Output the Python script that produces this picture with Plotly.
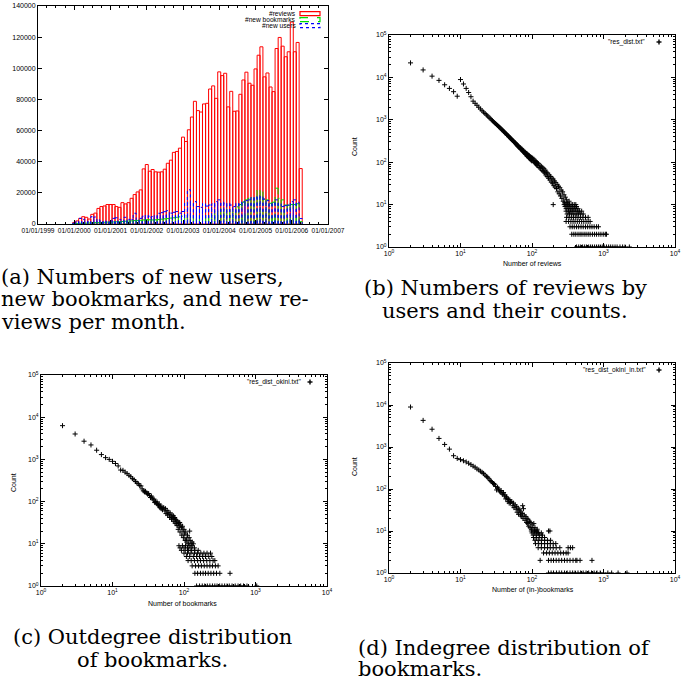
import plotly.graph_objects as go
import pandas as pd

W, H = 685, 677

# ---------------- (a) monthly counts, Jan 2000 .. Apr 2006 ----------------
month_start = "2000-01-01"
n_months = 76
reviews = [1000, 2000, 3600, 4700, 4300, 3200, 6200, 7000, 10000, 11200, 11600, 12500,
           12500, 12500, 11200, 10700, 13700, 12900, 13700, 16500, 18900, 20600, 21900, 35400,
           38200, 33900, 35000, 33500, 33300, 33500, 35200, 39000, 41000, 46000, 46600, 48700,
           55800, 53000, 60500, 68700, 78800, 72800, 71900, 77100, 77500, 86700, 88700, 80700,
           97700, 95300, 96800, 75200, 85200, 72400, 72600, 83300, 92500, 97500, 90400, 89100,
           99600, 108400, 113800, 94500, 97000, 88000, 85000, 112700, 119800, 114200, 107400, 110600,
           129700, 110600, 116600, 35600]
new_bookmarks = [300, 400, 500, 500, 600, 700, 800, 900, 900, 1000, 1100, 1200,
                 1200, 1300, 1400, 1500, 1600, 1800, 1900, 2000, 2200, 2300, 2400, 2600,
                 2800, 2700, 2600, 2700, 2900, 3100, 3300, 3500, 3800, 4000, 4300, 4600,
                 5000, 5400, 5800, 6000, 6200, 6100, 6500, 7000, 7400, 7800, 8300, 9000,
                 10000, 9600, 9800, 9500, 9200, 10000, 11000, 12500, 14000, 15500, 16500, 17500,
                 21500, 21500, 21000, 16000, 15500, 13300, 14000, 23000, 16500, 15500, 12200, 12000,
                 12500, 12500, 13000, 1500]
new_users = [500, 1500, 3600, 3000, 2000, 1500, 4700, 4500, 2600, 1800, 2100, 1500,
             2500, 3600, 4000, 3000, 2500, 4300, 3000, 3000, 6900, 2500, 3600, 5000,
             5800, 5000, 4800, 5500, 6900, 7300, 7900, 8600, 7000, 7500, 8000, 7000,
             8000, 14000, 22000, 13300, 14400, 11200, 10700, 13300, 11500, 12200, 13000, 14400,
             15500, 14000, 13000, 13500, 12200, 11200, 13300, 14000, 14400, 15000, 15500, 17000,
             17600, 18000, 17500, 16000, 15000, 13300, 13800, 15500, 13300, 11200, 11800, 12200,
             14400, 15500, 14000, 3500]
year_tick_vals = ["1999-01-01", "2000-01-01", "2001-01-01", "2002-01-01", "2003-01-01",
                  "2004-01-01", "2005-01-01", "2006-01-01", "2007-01-01"]
year_tick_text = ["01/01/1999", "01/01/2000", "01/01/2001", "01/01/2002", "01/01/2003",
                  "01/01/2004", "01/01/2005", "01/01/2006", "01/01/2007"]
legend_a = ["#reviews", "#new bookmarks", "#new users"]

# log-axis ticks (b)-(d)
log_x_vals = [1, 10, 100, 1000, 10000]
log_x_text = ["10<sup>0</sup>", "10<sup>1</sup>", "10<sup>2</sup>", "10<sup>3</sup>", "10<sup>4</sup>"]
log_y_vals = [1, 10, 100, 1000, 10000, 100000]
log_y_text = ["10<sup>0</sup>", "10<sup>1</sup>", "10<sup>2</sup>", "10<sup>3</sup>", "10<sup>4</sup>",
              "10<sup>5</sup>"]

# ---------------- (b) reviews per user ----------------
b_x_head = [2, 3, 4, 5, 6, 7, 8, 9]
b_y_head = [22000, 15000, 10700, 8500, 6700, 5500, 4600, 3600]
b_x_main = list(range(10, 101))
b_y_main = [8900, 7000, 5500, 4400, 3500, 2750, 2450, 2200, 1980, 1800,
            1640, 1520, 1410, 1310, 1230, 1150, 1080, 1000, 950, 900,
            850, 810, 770, 735, 700, 670, 640, 610, 585, 560,
            535, 515, 495, 475, 455, 440, 425, 410, 395, 380,
            365, 355, 345, 330, 325, 310, 305, 290, 290, 275,
            270, 258, 255, 240, 245, 230, 228, 218, 222, 205,
            212, 198, 205, 188, 192, 178, 185, 170, 176, 162,
            172, 155, 165, 150, 160, 140, 155, 138, 148, 130,
            145, 128, 140, 122, 135, 118, 132, 112, 128, 108,
            120]
b_x_tail = [102, 104, 106, 108, 110, 112, 114, 116, 118, 120, 123, 126, 129, 132, 135, 138, 141, 144,
            147, 150, 153, 156, 160, 163, 166, 170, 174, 178, 182, 186, 190, 194, 198, 202, 206, 210,
            215, 220, 225, 230, 235, 240, 245, 250, 256, 262, 268, 274, 280, 286, 292, 298, 305, 312,
            320, 330, 198]
b_y_tail = [125, 105, 118, 98, 110, 92, 104, 86, 98, 82, 92, 75, 85, 70, 80, 64, 74, 60,
            70, 56, 65, 50, 58, 46, 55, 42, 50, 38, 46, 34, 42, 32, 40, 28, 36, 26,
            33, 24, 30, 20, 27, 18, 25, 16, 22, 14, 20, 12, 17, 11, 15, 10, 13, 11,
            10, 12, 10]
b_band_counts = [10, 9, 8, 7, 6, 5, 4, 3, 2, 1]
b_band_x = [
    [282, 300, 318, 335, 352, 370, 390, 410],
    [290, 310, 330, 350, 372, 395, 420],
    [300, 320, 340, 362, 385, 410, 440],
    [300, 325, 348, 372, 400, 430, 460, 495],
    [310, 335, 360, 385, 415, 445, 480, 520],
    [305, 330, 355, 380, 410, 440, 475, 515, 560, 610],
    [300, 325, 350, 375, 400, 430, 460, 495, 530, 570, 610, 650],
    [340, 365, 390, 420, 450, 485, 520, 560, 600, 645, 690, 740, 800, 850],
    [360, 385, 410, 440, 470, 500, 535, 570, 610, 650, 700, 750, 800, 860, 920, 990, 1060, 1100],
    [420, 450, 480, 510, 545, 580, 620, 660, 700, 750, 800, 850, 900, 960, 1020, 1100, 1180,
     1260, 1350, 1450, 1550, 1700, 1850, 2000, 2300],
]

# ---------------- (c) outdegree of bookmarks ----------------
c_x_head = [2, 3, 4, 5, 6, 7, 8, 9, 10, 11, 12, 13, 14]
c_y_head = [6300, 4000, 2700, 2200, 1650, 1300, 1100, 1000, 900, 800, 700, 560, 550]
c_x_main = list(range(15, 51))
c_y_main = [500, 460, 420, 390, 350, 330, 300, 275, 265, 240,
            235, 200, 180, 170, 175, 160, 150, 155, 140, 125,
            135, 120, 110, 115, 95, 100, 92, 98, 85, 80,
            88, 72, 78, 68, 75, 64]
c_x_tail = [52, 54, 55, 56, 58, 59, 60, 62, 63, 64, 66, 67, 68, 70, 71, 72, 74, 75, 76, 78,
            79, 80, 82, 83, 84, 86, 87, 88, 90, 92, 93, 95, 97, 98, 100, 102, 104, 106, 108, 110,
            112, 115, 118, 120, 122, 126, 130, 135]
c_y_tail = [72, 60, 68, 52, 62, 48, 56, 50, 42, 54, 45, 38, 48, 40, 46, 34, 42, 31, 38, 30,
            36, 27, 33, 22, 30, 25, 32, 19, 28, 24, 16, 26, 20, 14, 22, 17, 12, 19, 13, 11,
            16, 10, 14, 20, 12, 10, 11, 10]
c_band_counts = [9, 8, 7, 6, 5, 4, 3, 2, 1]
c_band_x = [
    [85, 95, 105, 118, 130],
    [88, 100, 112, 125, 140],
    [92, 104, 116, 128, 142, 158],
    [100, 112, 125, 140, 155, 172, 190, 210, 235],
    [108, 120, 135, 150, 165, 182, 200, 222, 245],
    [114, 126, 140, 155, 170, 188, 208, 230, 255, 270],
    [130, 145, 160, 175, 192, 210, 230, 250, 275, 300],
    [142, 155, 170, 185, 200, 218, 238, 260, 285, 317, 440],
    [150, 165, 180, 195, 212, 230, 250, 270, 290, 315, 340, 370, 400, 430, 470, 520, 570,
     620, 680, 760, 1040],
]

# ---------------- (d) indegree of bookmarks ----------------
d_x_head = [2, 3, 4, 5, 6, 7, 8, 9, 10]
d_y_head = [8950, 4300, 2650, 1600, 1150, 890, 620, 535, 500]
d_x_main = list(range(11, 51))
d_y_main = [470, 440, 410, 380, 350, 330, 300, 285, 265, 250,
            235, 215, 200, 190, 175, 160, 150, 140, 135, 130,
            115, 95, 110, 100, 90, 85, 92, 80, 75, 82,
            68, 72, 58, 65, 60, 50, 56, 46, 55, 48]
d_x_tail = [52, 54, 55, 56, 58, 60, 61, 62, 64, 65, 66, 68, 69, 70, 72, 73, 74, 75, 76, 78,
            80, 82, 84, 85, 87, 88, 90, 92, 94, 96, 98, 100, 103, 106, 108, 110, 114, 118, 122, 170,
            178]
d_y_tail = [50, 40, 46, 36, 42, 33, 38, 28, 35, 25, 32, 30, 24, 28, 22, 26, 40, 20, 34, 24,
            18, 22, 16, 20, 15, 19, 13, 17, 12, 16, 11, 14, 12, 15, 10, 12, 10, 11, 9, 10,
            10]
d_band_counts = [10, 9, 8, 7, 6, 5, 4, 3, 2, 1]
d_band_x = [
    [98, 108, 118],
    [100, 110, 122, 135],
    [104, 115, 128, 140],
    [105, 115, 126, 138, 150],
    [110, 122, 135, 150, 165, 182],
    [112, 124, 136, 150, 165, 180, 198, 215],
    [122, 135, 150, 165, 180, 198, 218, 245, 320, 345, 370],
    [145, 160, 175, 192, 210, 230, 252, 275, 300, 320],
    [130, 170, 185, 200, 218, 238, 260, 285, 310, 340, 375, 410, 425, 470, 690],
    [170, 185, 200, 220, 240, 260, 285, 310, 340, 370, 400, 440, 480, 520, 570, 620, 680,
     740, 810, 900, 1000, 1150, 1300, 1600, 2130],
]

captions = {
    "a": ["(a) Numbers of new users,", "new bookmarks, and new re-", "views per month."],
    "b": ["(b) Numbers of reviews by", "users and their counts."],
    "c": ["(c) Outdegree distribution", "of bookmarks."],
    "d": ["(d) Indegree distribution of", "bookmarks."],
}

# ---------------- helpers ----------------
SANS = "Liberation Sans, Arial, sans-serif"
SERIF = "DejaVu Serif, serif"


def px(x):
    return x / W


def py(y):
    return 1 - y / H


def flatten(x_lists, y_lists):
    xs, ys = [], []
    for xl, yl in zip(x_lists, y_lists):
        xs += list(xl)
        ys += list(yl)
    return xs, ys


def bands(counts, xlists):
    xs, ys = [], []
    for c, xl in zip(counts, xlists):
        xs += xl
        ys += [c] * len(xl)
    return xs, ys


months = pd.date_range(month_start, periods=n_months, freq="MS")
half = pd.Timedelta(days=15.2)


def box_path(dates, vals):
    xs, ys = [], []
    for d, v in zip(dates, vals):
        xs += [d - half, d - half, d + half, d + half, None]
        ys += [0, v, v, 0, None]
    return xs, ys


fig = go.Figure()

# (a)
fig.add_trace(go.Bar(x=months, y=reviews, width=30.4 * 86400000, name=legend_a[0],
                     marker=dict(color="rgba(255,255,255,0)", line=dict(color="#ff0000", width=1)),
                     xaxis="x", yaxis="y", showlegend=False))
gx, gy = box_path(months, new_bookmarks)
fig.add_trace(go.Scatter(x=gx, y=gy, mode="lines", name=legend_a[1],
                         line=dict(color="#00dd00", width=1, dash="dash"),
                         xaxis="x", yaxis="y", showlegend=False))
ux, uy = box_path(months, new_users)
fig.add_trace(go.Scatter(x=ux, y=uy, mode="lines", name=legend_a[2],
                         line=dict(color="#0000ff", width=1, dash="dot"),
                         xaxis="x", yaxis="y", showlegend=False))

marker_plus = dict(symbol="cross-thin", size=3.6, color="black", line=dict(color="black", width=1))

for name, xa, ya, parts, bc, bx in [
    ('"res_dist.txt"', "x2", "y2",
     [(b_x_head, b_y_head), (b_x_main, b_y_main), (b_x_tail, b_y_tail)], b_band_counts, b_band_x),
    ('"res_dist_okini.txt"', "x3", "y3",
     [(c_x_head, c_y_head), (c_x_main, c_y_main), (c_x_tail, c_y_tail)], c_band_counts, c_band_x),
    ('"res_dist_okini_in.txt"', "x4", "y4",
     [(d_x_head, d_y_head), (d_x_main, d_y_main), (d_x_tail, d_y_tail)], d_band_counts, d_band_x),
]:
    xs, ys = flatten([p[0] for p in parts], [p[1] for p in parts])
    bxs, bys = bands(bc, bx)
    fig.add_trace(go.Scatter(x=xs + bxs, y=ys + bys, mode="markers", name=name,
                             marker=marker_plus, xaxis=xa, yaxis=ya, showlegend=False))

tickfont = dict(family=SANS, size=7, color="black")
common = dict(showline=True, linecolor="black", linewidth=1, mirror="allticks", ticks="inside",
              ticklen=4, tickcolor="black", tickwidth=1, showgrid=False, zeroline=False,
              tickfont=tickfont, tickangle=0, automargin=False)

layout_axes = {}
# (a) axes
layout_axes["xaxis"] = dict(common, domain=[px(38), px(328)], anchor="y", type="date",
                            range=["1999-01-01", "2007-01-01"], tickvals=year_tick_vals,
                            ticktext=year_tick_text, tickfont=dict(tickfont, size=6.6),
                            minor=dict(ticks="inside", ticklen=2, tickcolor="black", dtick="M3",
                                       showgrid=False))
layout_axes["yaxis"] = dict(common, domain=[py(224), py(6)], anchor="x", range=[0, 140000],
                            dtick=20000, tickformat="d")

log_common = dict(common, type="log",
                  minor=dict(ticks="inside", ticklen=2, tickcolor="black", dtick="D1",
                             showgrid=False))
panels = {
    "2": ([389, 675], [35, 247]),
    "3": ([41, 327], [375, 586]),
    "4": ([389, 675], [363, 573]),
}
for k, (xr, yr) in panels.items():
    layout_axes["xaxis" + k] = dict(log_common, domain=[px(xr[0]), px(xr[1])], anchor="y" + k,
                                    range=[0, 4], tickvals=log_x_vals, ticktext=log_x_text)
    layout_axes["yaxis" + k] = dict(log_common, domain=[py(yr[1]), py(yr[0])], anchor="x" + k,
                                    range=[0, 5], tickvals=log_y_vals, ticktext=log_y_text)

ann = []


def text(x, y, s, size=7, xanchor="center", family=SANS, angle=0):
    ann.append(dict(x=px(x), y=py(y), xref="paper", yref="paper", text=s, showarrow=False,
                    xanchor=xanchor, yanchor="middle", textangle=angle, borderpad=0,
                    font=dict(family=family, size=size, color="black")))


# axis titles
text(532, 263, "Number of reviews")
text(355, 147, "Count", angle=-90)
text(183, 603, "Number of bookmarks")
text(13, 483, "Count", angle=-90)
text(533, 590, "Number of (in-)bookmarks")
text(355, 467, "Count", angle=-90)

# legends
shapes = []
leg_rows = [13.7, 19.7, 25.7]
leg_styles = [("#ff0000", "solid"), ("#00dd00", "dash"), ("#0000ff", "dot")]
for lbl, yy, (col, dash) in zip(legend_a, leg_rows, leg_styles):
    text(297, yy, lbl, size=6.6, xanchor="right")
    shapes.append(dict(type="rect", xref="paper", yref="paper", x0=px(300), x1=px(320),
                       y0=py(yy + 2), y1=py(yy - 2), line=dict(color=col, width=1.2, dash=dash)))

for lbl, tx, mx, yy in [('"res_dist.txt"', 646, 659, 42),
                        ('"res_dist_okini.txt"', 302, 310, 382),
                        ('"res_dist_okini_in.txt"', 647, 659, 370)]:
    text(tx, yy, lbl, size=6.6, xanchor="right")
    shapes.append(dict(type="line", xref="paper", yref="paper", x0=px(mx - 2.5), x1=px(mx + 2.5),
                       y0=py(yy), y1=py(yy), line=dict(color="black", width=1.4)))
    shapes.append(dict(type="line", xref="paper", yref="paper", x0=px(mx), x1=px(mx),
                       y0=py(yy - 2.5), y1=py(yy + 2.5), line=dict(color="black", width=1.4)))

# captions
cap_size = 21
for s, yy in zip(captions["a"], [277, 299, 322]):
    text(0, yy, s, size=cap_size, xanchor="left", family=SERIF)
for s, yy in zip(captions["b"], [288, 311]):
    text(505, yy, s, size=cap_size, family=SERIF)
for s, yy in zip(captions["c"], [637, 660]):
    text(152, yy, s, size=cap_size, family=SERIF)
for s, yy in zip(captions["d"], [648, 669]):
    text(357, yy, s, size=cap_size, xanchor="left", family=SERIF)

fig.update_layout(width=W, height=H, margin=dict(l=0, r=0, t=0, b=0, autoexpand=False),
                  paper_bgcolor="white", plot_bgcolor="white", showlegend=False,
                  hovermode=False, annotations=ann, shapes=shapes, bargap=0, **layout_axes)

fig.write_html("out.html", config={"displayModeBar": False, "staticPlot": True},
               post_script="document.body.style.margin='0';document.body.style.overflow='hidden';")
